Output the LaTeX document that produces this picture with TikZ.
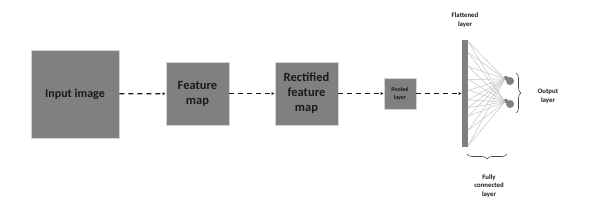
\documentclass[tikz,border=0pt]{standalone}
\usepackage{fontspec}
\setmainfont{Carlito}
\usetikzlibrary{arrows.meta,calc,decorations.pathreplacing}
\definecolor{boxgray}{HTML}{808080}
\definecolor{edgegray}{HTML}{D4D4D4}
\definecolor{fangray}{HTML}{C4C4C4}
\definecolor{txt}{HTML}{1A1A1A}
\tikzset{
  blk/.style={draw=edgegray, line width=0.8pt, fill=boxgray, inner sep=0pt, align=center, text=txt, font=\bfseries},
  flow/.style={line width=1.2pt, dash pattern=on 5pt off 4pt, draw=txt, -{Latex[length=3pt,width=3pt]}},
  fan/.style={draw=fangray, line width=0.5pt},
  lbl/.style={font=\bfseries\fontsize{6.8}{8.8}\selectfont, align=center, text=txt},
  brc/.style={decorate, decoration={brace, amplitude=5pt}, draw=txt!80, line width=0.6pt},
  outn/.style={circle, fill=boxgray, inner sep=0pt, minimum size=8pt}
}
\begin{document}
\begin{tikzpicture}[x=1pt,y=1pt]
\useasboundingbox (0,0) rectangle (603,212);
\node[blk, minimum width=88pt, minimum height=88pt, font=\bfseries\fontsize{12}{14}\selectfont] (inp) at (75,118) {Input image};
\node[blk, minimum width=63pt, minimum height=63pt, font=\bfseries\fontsize{12.5}{15}\selectfont] (feat) at (197.5,118.5) {Feature\\map};
\node[blk, minimum width=63pt, minimum height=63pt, font=\bfseries\fontsize{12.5}{15}\selectfont] (rect) at (306.5,118.5) {Rectified\\feature\\map};
\node[blk, minimum width=32pt, minimum height=31pt, font=\bfseries\fontsize{6}{8}\selectfont] (pool) at (400,118.5) {Pooled\\layer};
\node[blk, draw=none, minimum width=6pt, minimum height=107pt] (bar) at (465,118.5) {};
\draw[flow] (inp) -- (feat);
\draw[flow] (feat) -- (rect);
\draw[flow] (rect) -- (pool);
\draw[flow] (pool.east) -- (pool.east -| bar.west);
% output neurons
\node[outn] (o1) at (510,131) {};
\node[outn] (o2) at (510,108) {};
\fill[boxgray] ($(o1)+(-4,3)$) circle (2.2pt);
\fill[boxgray] ($(o2)+(-4,3)$) circle (2.2pt);
% fan lines
\foreach \t [count=\i] in {0.02,0.12,0.25,0.37,0.47,0.56,0.63,0.71,0.84,0.98} {
  \coordinate (f\i) at ($(bar.north east)!\t!(bar.south east)$);
  \draw[fan] (f\i) -- ($(o1.west)+(-1,2)$);
  \draw[fan] (f\i) -- ($(o2.west)+(-1,2)$);
}
% braces
\coordinate (rb1) at (516,139);
\coordinate (rb2) at (516,99);
\draw[brc] (rb1) -- (rb2);
\coordinate (bb1) at (507,58);
\coordinate (bb2) at (467,58);
\draw[brc] (bb1) -- (bb2);
% labels
\node[lbl] (flat) at (465,191.5) {Flattened\\layer};
\node[lbl] (outl) at (548,116) {Output\\layer};
\node[lbl] (fcl) at (489,26) {Fully\\connected\\layer};
\end{tikzpicture}
\end{document}
